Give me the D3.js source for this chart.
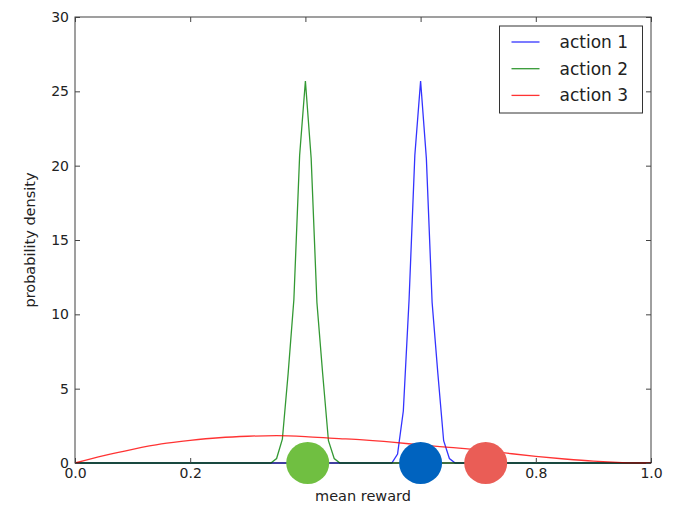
<!DOCTYPE html>
<html>
<head>
<meta charset="utf-8">
<script src="https://cdn.jsdelivr.net/npm/d3@7"></script>
<style>
  body { margin: 0; background: #fff; }
  svg { font-family: "DejaVu Sans", sans-serif; }
</style>
</head>
<body>
<div id="chart"></div>
<script>
const action1X = [0, 0.55, 0.56, 0.57, 0.58, 0.59, 0.60, 0.61, 0.62, 0.63, 0.64, 0.65, 0.66, 1];
const action1Y = [0, 0, 0.6, 3.5, 11.0, 20.7, 25.7, 20.5, 10.8, 6.0, 1.5, 0.3, 0, 0];

const action2X = [0, 0.34, 0.35, 0.36, 0.37, 0.38, 0.39, 0.40, 0.41, 0.42, 0.43, 0.44, 0.45, 0.46, 1];
const action2Y = [0, 0, 0.3, 1.6, 6.0, 11.0, 20.7, 25.7, 20.5, 10.8, 6.0, 1.5, 0.3, 0, 0];

const action3X = [0, 0.05, 0.10, 0.15, 0.20, 0.25, 0.30, 0.35, 0.40, 0.45, 0.50,
                  0.55, 0.60, 0.65, 0.70, 0.75, 0.80, 0.85, 0.90, 0.95, 1.00];
const action3Y = [0, 0.50, 0.92, 1.28, 1.52, 1.70, 1.80, 1.84, 1.78, 1.66, 1.55,
                  1.40, 1.22, 1.05, 0.88, 0.66, 0.45, 0.27, 0.12, 0.03, 0];

const seriesNames = ["action 1", "action 2", "action 3"];
const seriesColors = ["#0000ff", "#008000", "#ff0000"];

// big dots marking the means on the x axis
const markerX = [0.404, 0.600, 0.713];
const markerColors = ["#70bf41", "#0063bf", "#ea5d56"];

const xTicks = [0, 0.2, 0.4, 0.6, 0.8, 1.0];
const yTicks = [0, 5, 10, 15, 20, 25, 30];

var W = 679, H = 507;
var margin = {top: 17, right: 28, bottom: 44, left: 75},
    width = W - margin.left - margin.right,
    height = H - margin.top - margin.bottom;

var svg = d3.select("#chart").append("svg")
    .attr("width", W)
    .attr("height", H);

var g = svg.append("g")
    .attr("transform", "translate(" + margin.left + "," + margin.top + ")");

var x = d3.scaleLinear().domain([0, 1]).range([0, width]);
var y = d3.scaleLinear().domain([0, 30]).range([height, 0]);

// curves
const series = [
  action1X.map((v, i) => ({x: v, y: action1Y[i]})),
  action2X.map((v, i) => ({x: v, y: action2Y[i]})),
  action3X.map((v, i) => ({x: v, y: action3Y[i]}))
];

var lineLin = d3.line().x(d => x(d.x)).y(d => y(d.y));
var lineSmooth = d3.line().x(d => x(d.x)).y(d => y(d.y)).curve(d3.curveMonotoneX);

series.forEach((s, i) => {
  g.append("path")
    .datum(s)
    .attr("fill", "none")
    .attr("stroke", seriesColors[i])
    .attr("stroke-opacity", 0.8)
    .attr("stroke-width", 1.3)
    .attr("d", i == 2 ? lineSmooth : lineLin);
});

// frame
g.append("rect")
  .attr("width", width)
  .attr("height", height)
  .attr("fill", "none")
  .attr("stroke", "#000")
  .attr("stroke-opacity", 0.75)
  .attr("stroke-width", 1);

// axes, ticks inside on all four sides
var tl = 5;
var xBottom = g.append("g")
  .attr("transform", "translate(0," + height + ")")
  .call(d3.axisBottom(x).tickValues(xTicks).tickFormat(d3.format(".1f")).tickSizeInner(-tl).tickSizeOuter(0).tickPadding(5));
var xTop = g.append("g")
  .call(d3.axisTop(x).tickValues(xTicks).tickFormat("").tickSizeInner(-tl).tickSizeOuter(0));
var yLeft = g.append("g")
  .call(d3.axisLeft(y).tickValues(yTicks).tickSizeInner(-tl).tickSizeOuter(0).tickPadding(6));
var yRight = g.append("g")
  .attr("transform", "translate(" + width + ",0)")
  .call(d3.axisRight(y).tickValues(yTicks).tickFormat("").tickSizeInner(-tl).tickSizeOuter(0));

[xBottom, xTop, yLeft, yRight].forEach(a => {
  a.select(".domain").remove();
  a.selectAll("line").attr("stroke", "#444");
  a.selectAll("text")
    .attr("fill", "#222")
    .style("font-size", "14px")
    .style("font-family", "DejaVu Sans");
});

// axis labels
g.append("text")
  .attr("x", width / 2)
  .attr("y", height + 38)
  .attr("text-anchor", "middle")
  .attr("fill", "#222")
  .style("font-size", "14.5px")
  .text("mean reward");

g.append("text")
  .attr("transform", "translate(-40," + (height / 2) + ") rotate(-90)")
  .attr("text-anchor", "middle")
  .attr("fill", "#222")
  .style("font-size", "14.5px")
  .text("probability density");

// legend
var legend = g.append("g")
  .attr("transform", "translate(" + (499.5 - margin.left) + "," + (26 - margin.top) + ")");

legend.append("rect")
  .attr("width", 143)
  .attr("height", 87)
  .attr("fill", "#fff")
  .attr("stroke", "#333")
  .attr("stroke-width", 1);

seriesNames.forEach((name, i) => {
  var ly = 16 + i * 26.7;
  legend.append("line")
    .attr("x1", 12).attr("x2", 40)
    .attr("y1", ly).attr("y2", ly)
    .attr("stroke", seriesColors[i])
    .attr("stroke-opacity", 0.8)
    .attr("stroke-width", 1.3);
  legend.append("text")
    .attr("x", 60)
    .attr("y", ly + 6)
    .attr("fill", "#222")
    .style("font-size", "17px")
    .text(name);
});

// mean markers on top of everything
g.selectAll(".marker")
  .data(markerX)
  .enter().append("ellipse")
  .attr("class", "marker")
  .attr("cx", d => x(d))
  .attr("cy", y(0))
  .attr("rx", 21.5)
  .attr("ry", 21)
  .attr("fill", (d, i) => markerColors[i]);
</script>
</body>
</html>
